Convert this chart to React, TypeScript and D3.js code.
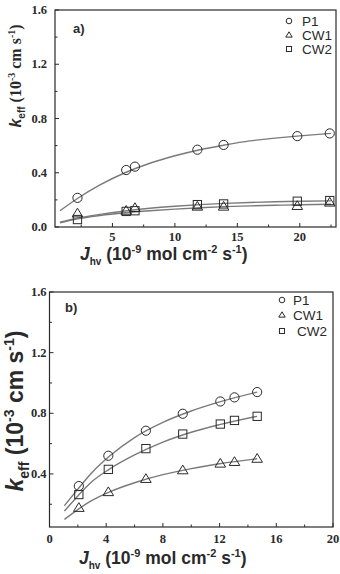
import React from 'react';
import * as d3 from 'd3';

// ---- panel a) data (read from the figure) ----
const aX = [2.2, 6.1, 6.8, 11.8, 13.9, 19.8, 22.4];
const aP1 = [0.215, 0.42, 0.445, 0.57, 0.605, 0.67, 0.69];
const aCW1 = [0.1, 0.12, 0.14, 0.15, 0.15, 0.155, 0.18];
const aCW2 = [0.055, 0.115, 0.12, 0.165, 0.17, 0.19, 0.195];

// fitted curves, points
const aFitX = [0.8, 2.2, 4, 6, 8, 10, 12, 14, 16, 18, 20, 22.5];
const aFitP1 = [0.12, 0.21, 0.31, 0.4, 0.47, 0.525, 0.57, 0.605, 0.635, 0.655, 0.672, 0.69];
const aFitCW1 = [0.03, 0.06, 0.085, 0.105, 0.12, 0.132, 0.142, 0.15, 0.156, 0.16, 0.164, 0.168];
const aFitCW2 = [0.035, 0.065, 0.093, 0.118, 0.138, 0.153, 0.165, 0.174, 0.181, 0.186, 0.19, 0.193];

// ---- panel b) data ----
const bX = [2.07, 4.15, 6.8, 9.4, 12.05, 13.05, 14.65];
const bP1 = [0.32, 0.52, 0.685, 0.797, 0.878, 0.905, 0.94];
const bCW1 = [0.176, 0.28, 0.367, 0.424, 0.468, 0.479, 0.5];
const bCW2 = [0.264, 0.43, 0.567, 0.663, 0.729, 0.753, 0.78];

const bFitX = [1.05, 2, 3, 4.2, 6, 8, 10, 12, 14.65];
const bFitP1 = [0.19, 0.3, 0.41, 0.515, 0.64, 0.74, 0.815, 0.875, 0.94];
const bFitCW1 = [0.1, 0.165, 0.225, 0.28, 0.342, 0.395, 0.435, 0.467, 0.5];
const bFitCW2 = [0.155, 0.255, 0.35, 0.43, 0.525, 0.61, 0.675, 0.725, 0.78];

const yMajor = [0, 0.4, 0.8, 1.2, 1.6];
const yMinor = [0.2, 0.6, 1.0, 1.4];
const aXMajor = [5, 10, 15, 20];
const aXMinor = [2.5, 7.5, 12.5, 17.5, 22.5];
const bXMajor = [0, 4, 8, 12, 16, 20];
const bXMinor = [2, 6, 10, 14, 18];

const seriesNames = ['P1', 'CW1', 'CW2'];

const serif = '"Liberation Serif", "Times New Roman", serif';
const sans = '"Liberation Sans", Arial, sans-serif';
const ink = '#2a2a2a';
const fitColor = '#7a7a7a';

type Sc = d3.ScaleLinear<number, number>;

function Marker({ kind, x, y, s }: { kind: string; x: number; y: number; s: number }) {
  if (kind === 'P1') return <circle cx={x} cy={y} r={s} fill="none" stroke={ink} strokeWidth={1} />;
  if (kind === 'CW1') {
    const h = s * 1.9;
    const w = s * 1.15;
    return (
      <path
        d={`M${x},${y - h * 0.6}L${x + w},${y + h * 0.4}L${x - w},${y + h * 0.4}Z`}
        fill="none"
        stroke={ink}
        strokeWidth={1}
      />
    );
  }
  return <rect x={x - s * 0.9} y={y - s * 0.9} width={s * 1.8} height={s * 1.8} fill="none" stroke={ink} strokeWidth={1} />;
}

function Panel(props: {
  x: Sc; y: Sc; xMajor: number[]; xMinor: number[]; yMajor: number[];
  pts: number[]; series: number[][]; fitX: number[]; fits: number[][];
  label: string; labelPos: [number, number]; legendX: number; legendY: number[]; legendTextX: number[];
  xTickDy: number; xTitleX: number; xTitleY: number; yTitleX: number; yTitleY: number;
  yTitleSize: number; serifY: boolean; yTickGap: number;
}) {
  const { x, y } = props;
  const [x0, x1] = x.range();
  const [y0, y1] = y.range();
  const line = d3.line<[number, number]>().x(d => x(d[0])).y(d => y(d[1])).curve(d3.curveMonotoneX);
  const yt = props.yTitleSize;
  const ys = Math.round(yt * 0.6);
  const yFam = props.serifY ? serif : sans;
  return (
    <g>
      {props.fits.map((f, i) => (
        <path key={i} d={line(props.fitX.map((v, j) => [v, f[j]] as [number, number])) || ''} fill="none" stroke={fitColor} strokeWidth={1.4} />
      ))}
      {props.series.map((s, i) =>
        s.map((v, j) => <Marker key={i + '-' + j} kind={seriesNames[i]} x={x(props.pts[j])} y={y(v)} s={4.6} />)
      )}
      <rect x={x0} y={y1} width={x1 - x0} height={y0 - y1} fill="none" stroke={ink} strokeWidth={1.2} />
      {props.xMajor.map(t => (
        <g key={'xm' + t}>
          <line x1={x(t)} x2={x(t)} y1={y0} y2={y0 - 4} stroke={ink} />
          <text x={x(t)} y={y0 + props.xTickDy} textAnchor="middle" fontFamily={serif} fontWeight="bold" fontSize={12.5} fill={ink}>{t}</text>
        </g>
      ))}
      {props.xMinor.map(t => (
        <line key={'xn' + t} x1={x(t)} x2={x(t)} y1={y0} y2={y0 - 2.5} stroke={ink} />
      ))}
      {props.yMajor.map(t => (
        <g key={'ym' + t}>
          <line x1={x0} x2={x0 + 4} y1={y(t)} y2={y(t)} stroke={ink} />
          <text x={x0 - props.yTickGap} y={y(t) + 4} textAnchor="end" fontFamily={serif} fontWeight="bold" fontSize={12.5} fill={ink}>{d3.format('.1f')(t)}</text>
        </g>
      ))}
      {yMinor.map(t => (
        <line key={'yn' + t} x1={x0} x2={x0 + 2.5} y1={y(t)} y2={y(t)} stroke={ink} />
      ))}
      <text x={props.labelPos[0]} y={props.labelPos[1]} fontFamily={sans} fontWeight="bold" fontSize={13} fill={ink}>{props.label}</text>
      {seriesNames.map((n, i) => (
        <g key={n}>
          <Marker kind={n} x={props.legendX} y={props.legendY[i]} s={2.8} />
          <text x={props.legendTextX[i]} y={props.legendY[i] + 4.5} fontFamily={sans} fontSize={13.5} fill={ink}>{n}</text>
        </g>
      ))}
      <text x={props.xTitleX} y={props.xTitleY} fontFamily={sans} fontWeight="bold" fontSize={17.5} fill={ink}>
        <tspan fontStyle="italic">J</tspan>
        <tspan fontSize={10} dy={5}>hv</tspan>
        <tspan dy={-5}> (10</tspan>
        <tspan fontSize={11} dy={-7}>-9</tspan>
        <tspan dy={7}> mol cm</tspan>
        <tspan fontSize={11} dy={-7}>-2</tspan>
        <tspan dy={7}> s</tspan>
        <tspan fontSize={11} dy={-7}>-1</tspan>
        <tspan dy={7}>)</tspan>
      </text>
      <text transform={`translate(${props.yTitleX},${props.yTitleY}) rotate(-90)`} textAnchor="middle" fontFamily={sans} fontWeight="bold" fontSize={yt} fill={ink}>
        <tspan fontStyle="italic">k</tspan>
        <tspan fontSize={ys} dy={yt * 0.28}>eff</tspan>
        <tspan dy={-yt * 0.28} fontFamily={yFam}> (10</tspan>
        <tspan fontSize={ys} dy={-yt * 0.38} fontFamily={yFam}>-3</tspan>
        <tspan dy={yt * 0.38} fontFamily={yFam}> cm s</tspan>
        <tspan fontSize={ys} dy={-yt * 0.38} fontFamily={yFam}>-1</tspan>
        <tspan dy={yt * 0.38} fontFamily={yFam}>)</tspan>
      </text>
    </g>
  );
}

export default function App() {
  const ax = d3.scaleLinear().domain([0.4, 22.9]).range([55, 336]);
  const ay = d3.scaleLinear().domain([0, 1.6]).range([227, 10]);
  const bx = d3.scaleLinear().domain([0, 20]).range([49.5, 333]);
  const by = d3.scaleLinear().domain([0.05, 1.6]).range([527, 292]);
  return (
    <svg width={340} height={574} style={{ position: 'absolute', left: 0, top: 0, background: '#fff' }}>
      <Panel
        x={ax} y={ay} xMajor={aXMajor} xMinor={aXMinor} yMajor={yMajor}
        pts={aX} series={[aP1, aCW1, aCW2]} fitX={aFitX} fits={[aFitP1, aFitCW1, aFitCW2]}
        label="a)" labelPos={[73, 33]} legendX={289} legendY={[21, 35, 49]} legendTextX={[302, 302, 302]}
        xTickDy={13.5} xTitleX={80} xTitleY={260} yTitleX={21} yTitleY={76} yTitleSize={16} serifY={true} yTickGap={8}
      />
      <Panel
        x={bx} y={by} xMajor={bXMajor} xMinor={bXMinor} yMajor={yMajor.slice(1)}
        pts={bX} series={[bP1, bCW1, bCW2]} fitX={bFitX} fits={[bFitP1, bFitCW1, bFitCW2]}
        label="b)" labelPos={[65, 312]} legendX={282} legendY={[300, 315, 331]} legendTextX={[293, 293, 297]}
        xTickDy={16} xTitleX={79} xTitleY={564} yTitleX={23} yTitleY={411} yTitleSize={23} serifY={false} yTickGap={3}
      />
    </svg>
  );
}
